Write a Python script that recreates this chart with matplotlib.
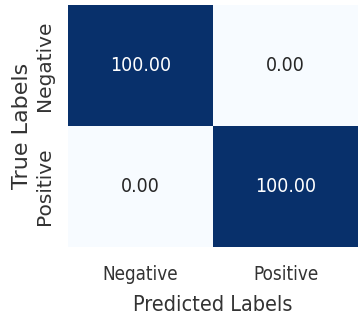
import numpy as np
import matplotlib
matplotlib.use("Agg")
import matplotlib.pyplot as plt
import seaborn as sns

classes = ["Negative", "Positive"]
cm_percent = np.array([[100.0, 0.0],
                       [0.0, 100.0]])

sns.set_theme(style="white")
plt.rcParams['font.family'] = ['DejaVu Sans']
text_col = '#333333'

fig = plt.figure(figsize=(3.6, 3.27), dpi=100)
ax = fig.add_axes([0.189, 0.245, 0.806, 0.74])
sns.heatmap(cm_percent, annot=True, fmt=".2f", cmap="Blues", cbar=False,
            xticklabels=classes, yticklabels=classes, ax=ax,
            annot_kws={"size": 14, "stretch": "condensed"})

# x side in the narrow face, y side in the regular one
ax.set_xticklabels(classes, fontsize=13.5, fontstretch='condensed', color=text_col)
ax.set_yticklabels(classes, fontsize=14.5, rotation=90, va='center', color=text_col)
ax.tick_params(axis='x', length=0, pad=13)
ax.tick_params(axis='y', length=0, pad=10)
ax.set_xlabel("Predicted Labels", fontsize=15.5, fontstretch='condensed',
              labelpad=8, color=text_col)
ax.set_ylabel("True Labels", fontsize=16, labelpad=2, color=text_col)

fig.savefig("out.png", dpi=100)
